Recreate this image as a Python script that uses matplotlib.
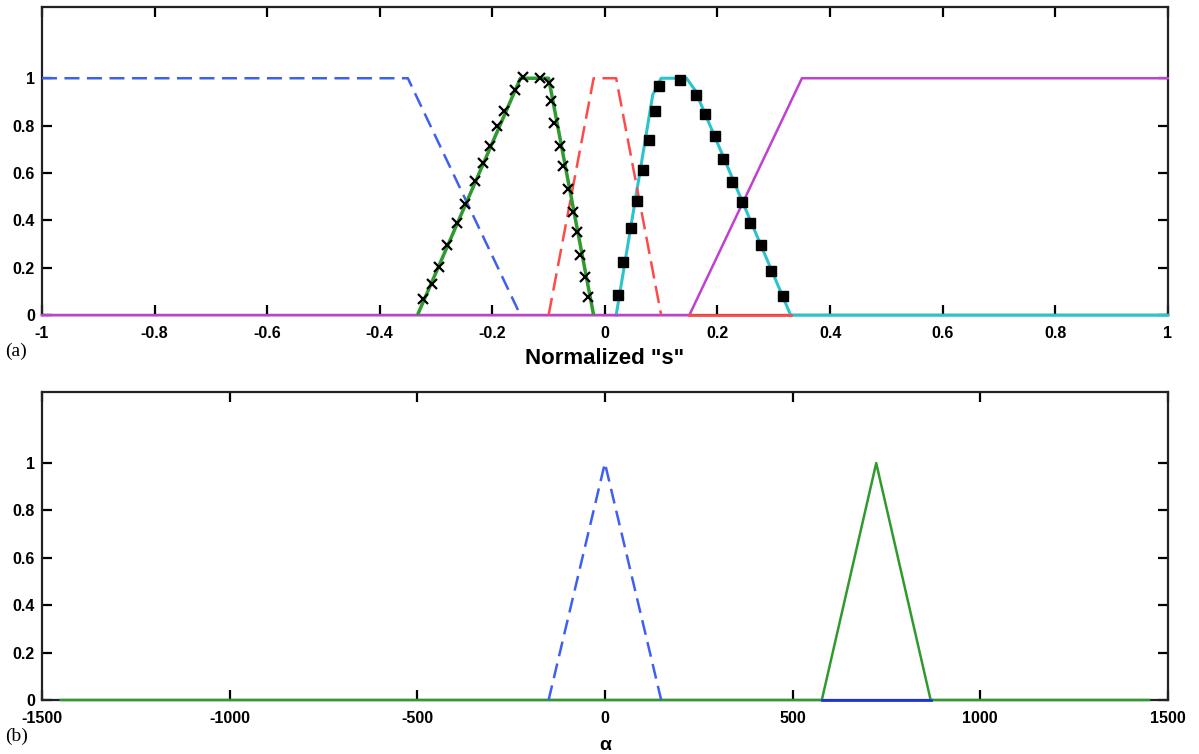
import numpy as np
import matplotlib
matplotlib.use("Agg")
import matplotlib.pyplot as plt

plt.rcParams["font.family"] = ["Liberation Sans", "DejaVu Sans"]
plt.rcParams["axes.unicode_minus"] = False

# ------------------------------------------------------
# DATA
# ------------------------------------------------------

# (a) membership functions over normalized "s"
s_blue_x = [-1.0, -0.35, -0.15]
s_blue_y = [1.0, 1.0, 0.0]

s_green_x = [-0.333, -0.15, -0.10, -0.02]
s_green_y = [0.0, 1.0, 1.0, 0.0]
s_green_mx = [-0.323, -0.308, -0.294, -0.281, -0.263, -0.249, -0.231, -0.217,
              -0.204, -0.192, -0.180, -0.160, -0.145, -0.116, -0.100, -0.096,
              -0.091, -0.080, -0.075, -0.066, -0.056, -0.049, -0.045, -0.036,
              -0.030]
s_green_my = [0.070, 0.132, 0.205, 0.296, 0.390, 0.471, 0.565, 0.644,
              0.714, 0.799, 0.861, 0.951, 1.004, 1.000, 0.979, 0.902,
              0.809, 0.715, 0.628, 0.533, 0.435, 0.351, 0.255, 0.163,
              0.077]

s_red_x = [-0.10, -0.02, 0.02, 0.10]
s_red_y = [0.0, 1.0, 1.0, 0.0]
s_red_zero_x = [0.15, 0.33]

s_cyan_x = [0.02, 0.085, 0.10, 0.145, 0.16, 0.33, 1.0]
s_cyan_y = [0.0, 0.93, 1.0, 1.0, 0.95, 0.0, 0.0]
s_cyan_mx = [0.024, 0.033, 0.047, 0.057, 0.068, 0.078, 0.089, 0.096, 0.133,
             0.161, 0.178, 0.195, 0.210, 0.226, 0.243, 0.257, 0.278, 0.295,
             0.316]
s_cyan_my = [0.084, 0.223, 0.369, 0.481, 0.611, 0.739, 0.862, 0.969, 0.993,
             0.928, 0.848, 0.756, 0.660, 0.562, 0.478, 0.390, 0.297, 0.188,
             0.081]

s_mag_x = [-1.0, 0.15, 0.35, 1.0]
s_mag_y = [0.0, 0.0, 1.0, 1.0]

s_ticks = [-1, -0.8, -0.6, -0.4, -0.2, 0, 0.2, 0.4, 0.6, 0.8, 1]
s_ticklabels = ["-1", "-0.8", "-0.6", "-0.4", "-0.2", "0", "0.2", "0.4", "0.6", "0.8", "1"]

# (b) membership functions over alpha
a_blue_x = [-150, 0, 150]
a_blue_y = [0.0, 1.0, 0.0]
a_blue_zero_x = [578, 868]

a_green_x = [-1450, 578, 723, 868, 1450]
a_green_y = [0.0, 0.0, 1.0, 0.0, 0.0]

a_ticks = [-1500, -1000, -500, 0, 500, 1000, 1500]
a_ticklabels = ["-1500", "-1000", "-500", "0", "500", "1000", "1500"]

y_ticks = [0, 0.2, 0.4, 0.6, 0.8, 1]
y_ticklabels = ["0", "0.2", "0.4", "0.6", "0.8", "1"]

# ------------------------------------------------------
# PLOT
# ------------------------------------------------------

fig = plt.figure(figsize=(11.99, 7.54), dpi=100)
ax1 = fig.add_axes([0.035, 0.582, 0.939, 0.4085])
ax2 = fig.add_axes([0.035, 0.0716, 0.939, 0.4085])

BLUE = "#3f5ff0"
RED = "#ff4a4a"
GREEN = "#2f9a2f"
CYAN = "#2cc4cc"
MAG = "#c040d0"

# top panel
ax1.plot(s_cyan_x, s_cyan_y, color=CYAN, lw=2.2, zorder=3, clip_on=False)
ax1.plot(s_red_zero_x, [0, 0], color=RED, lw=2, zorder=3.5, clip_on=False)
ax1.plot(s_mag_x, s_mag_y, color=MAG, lw=1.8, zorder=3.2, clip_on=False)
ax1.plot(s_blue_x, s_blue_y, color=BLUE, lw=1.8, dashes=(6, 3), zorder=3.3)
ax1.plot(s_red_x, s_red_y, color=RED, lw=1.8, dashes=(7, 3), zorder=3.3)
ax1.plot(s_green_x, s_green_y, color=GREEN, lw=2.5, zorder=3.3)
ax1.plot(s_green_mx, s_green_my, ls="none", marker="x", ms=7, mew=1.6,
         color="black", zorder=4)
ax1.plot(s_cyan_mx, s_cyan_my, ls="none", marker="s", ms=7, color="black",
         zorder=4)

ax1.set_xlim(-1, 1)
ax1.set_xticks(s_ticks)
ax1.set_xticklabels(s_ticklabels)
ax1.set_xlabel('Normalized "s"', fontsize=16, fontweight="bold", labelpad=5)

# bottom panel
ax2.plot(a_green_x, a_green_y, color=GREEN, lw=1.8, zorder=3, clip_on=False)
ax2.plot(a_blue_zero_x, [0, 0], color="#2233dd", lw=2, zorder=3.2, clip_on=False)
ax2.plot(a_blue_x, a_blue_y, color=BLUE, lw=1.8, dashes=(6, 3), zorder=3.3)

ax2.set_xlim(-1500, 1500)
ax2.set_xticks(a_ticks)
ax2.set_xticklabels(a_ticklabels)
ax2.set_xlabel("α", fontsize=14, fontweight="bold", labelpad=8)

for ax in (ax1, ax2):
    ax.set_ylim(0, 1.3)
    ax.set_yticks(y_ticks)
    ax.set_yticklabels(y_ticklabels)
    ax.tick_params(direction="in", length=7, width=1.6, top=True, right=True,
                   labelsize=11.5)
    ax.tick_params(axis="x", pad=8)
    ax.tick_params(axis="y", pad=5)
    for lab in ax.get_xticklabels() + ax.get_yticklabels():
        lab.set_fontweight("bold")
    for sp in ax.spines.values():
        sp.set_linewidth(1.6)
        sp.set_color("#222222")

fig.text(0.004, 0.528, "(a)", fontsize=14, family="Liberation Serif")
fig.text(0.004, 0.017, "(b)", fontsize=14, family="Liberation Serif")

fig.savefig("out.png", dpi=100)
